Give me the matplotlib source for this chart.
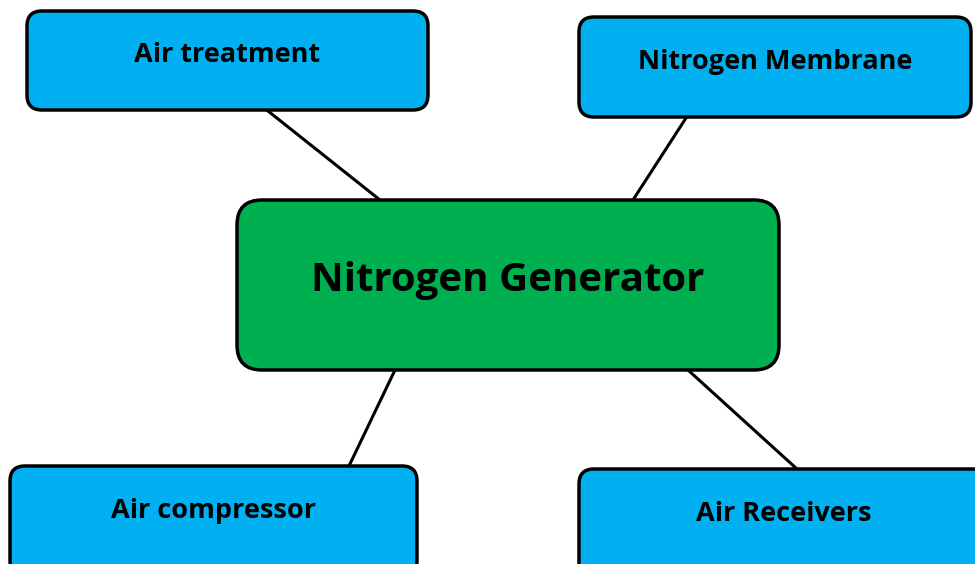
import matplotlib.pyplot as plt
from matplotlib.patches import FancyBboxPatch

# cajas del diagrama
labels = ["Air treatment", "Nitrogen Membrane", "Nitrogen Generator",
          "Air compressor", "Air Receivers"]
# x, y, ancho, alto (pixeles, y hacia abajo)
boxes = [(27, 11, 401, 99), (579, 17, 392, 100), (237, 200, 542, 170),
         (10, 466, 407, 110), (579, 469, 410, 110)]
text_y = [55, 62, 281, 511, 514]
colors = ["#00B0F0", "#00B0F0", "#00B050", "#00B0F0", "#00B0F0"]
sizes = [19.5, 19.5, 29, 19.5, 19.5]
radius = [15, 15, 25, 15, 15]

# conectores (desde, hasta)
links = [((268, 111), (380, 200)), ((686, 118), (633, 200)),
         ((395, 370), (349, 466)), ((688, 370), (797, 469))]

fig = plt.figure(figsize=(9.75, 5.64), dpi=100)
ax = fig.add_axes([0, 0, 1, 1])
ax.set_xlim(0, 975)
ax.set_ylim(564, 0)
ax.axis("off")

for (p, q) in links:
    ax.plot([p[0], q[0]], [p[1], q[1]], color="black", lw=2.2, zorder=1)

for i in range(len(labels)):
    x, y, w, h = boxes[i]
    b = FancyBboxPatch((x, y), w, h,
                       boxstyle="round,pad=0,rounding_size=%d" % radius[i],
                       fc=colors[i], ec="black", lw=2.5, zorder=2)
    ax.add_patch(b)
    ax.text(x + w / 2, text_y[i], labels[i], ha="center", va="center",
            fontsize=sizes[i], fontweight="bold", family="Open Sans",
            color="black", zorder=3)

fig.savefig("out.png", dpi=100)
